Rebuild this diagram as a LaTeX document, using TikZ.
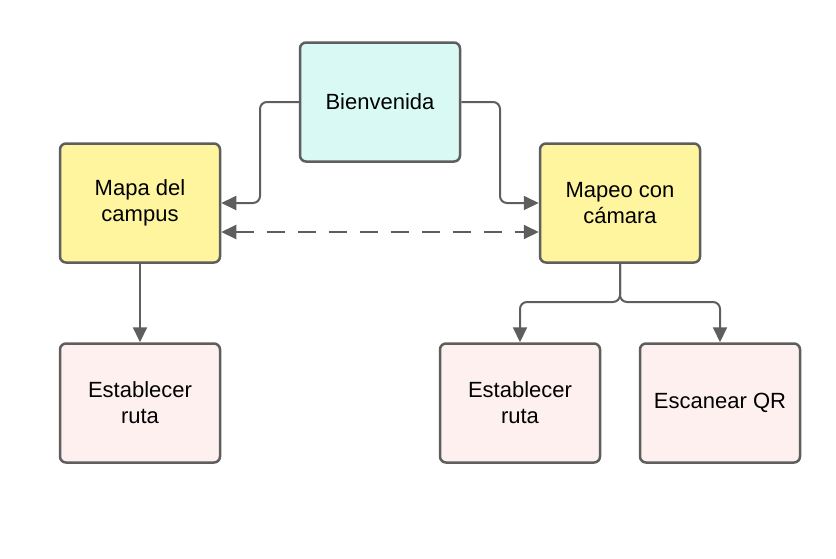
\documentclass[tikz,border=0pt]{standalone}
\usepackage{fontspec}
\setmainfont{Liberation Sans}
\usetikzlibrary{arrows.meta,calc}
\definecolor{edgegray}{HTML}{5E5E5E}
\definecolor{cyanfill}{HTML}{D9FAF4}
\definecolor{yellowfill}{HTML}{FFF59F}
\definecolor{pinkfill}{HTML}{FFF0F0}
\begin{document}
\begin{tikzpicture}[x=1pt,y=-1pt,
  box/.style={draw=edgegray,line width=2.5pt,rounded corners=6pt,minimum width=160pt,minimum height=119pt,align=center,font=\fontsize{22}{26}\selectfont,inner sep=0pt},
  conn/.style={draw=edgegray,line width=2pt,rounded corners=7pt,-{Triangle[length=15pt,width=14pt]}},
  dconn/.style={draw=edgegray,line width=2pt,dash pattern=on 18pt off 13pt,{Triangle[length=15pt,width=14pt]}-{Triangle[length=15pt,width=14pt]}}]
\useasboundingbox (0,0) rectangle (836,558);
\node[box,fill=cyanfill] (bien) at (380,102) {Bienvenida};
\node[box,fill=yellowfill] (mapa) at (140,203) {Mapa del\\campus};
\node[box,fill=yellowfill] (mapeo) at (620,203) {Mapeo con\\cámara};
\node[box,fill=pinkfill] (ruta1) at (140,403) {Establecer\\ruta};
\node[box,fill=pinkfill] (ruta2) at (520,403) {Establecer\\ruta};
\node[box,fill=pinkfill] (qr) at (720,403) {Escanear QR};
\draw[conn] (bien.west) -| (260,203) -- (mapa.east);
\draw[conn] (bien.east) -| (500,203) -- (mapeo.west);
\draw[dconn] ($(mapa.east)+(0,29)$) -- ($(mapeo.west)+(0,29)$);
\draw[conn] (mapa.south) -- (ruta1.north);
\draw[conn] (mapeo.south) -- (620,302) -| (ruta2.north);
\draw[conn] (mapeo.south) -- (620,302) -| (qr.north);
\end{tikzpicture}
\end{document}
